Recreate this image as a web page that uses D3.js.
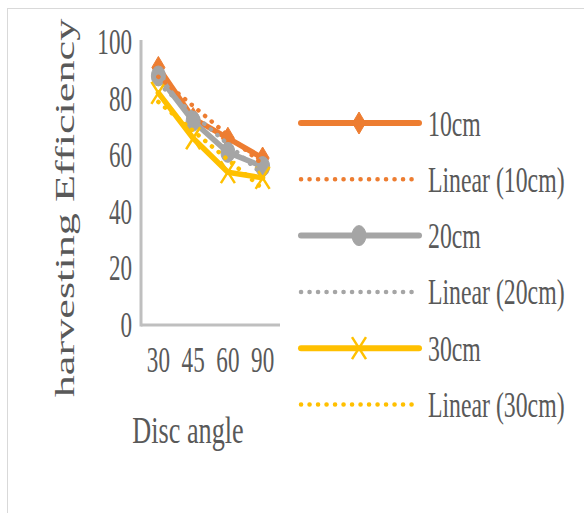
<!DOCTYPE html>
<html><head><meta charset="utf-8">
<script src="https://cdn.jsdelivr.net/npm/d3@7"></script>
<style>body{margin:0;background:#fff}svg{display:block}</style>
</head><body>
<svg id="c" width="584" height="513"></svg>
<script>
const categories = ["30","45","60","90"];
const s10 = [91, 73, 66, 59];
const s20 = [88, 72, 61, 56];
const s30 = [82, 66, 54, 52];
const yTicks = [0,20,40,60,80,100];
const seriesNames = ["10cm","20cm","30cm"];
const colors = ["#ED7D31","#A5A5A5","#FFC000"];
const markers = ["diamond","circle","x"];
const seriesData = [s10, s20, s30];

const svg = d3.select("#c");
const txt = "#595959";
const font = "'Liberation Serif','Times New Roman',serif";
const SX = 0.66;

svg.append("rect").attr("x",7.5).attr("y",8.5).attr("width",700).attr("height",700)
  .attr("fill","none").attr("stroke","#D9D9D9").attr("stroke-width",1);

const x = d3.scaleBand().domain(categories).range([141,280]).padding(0);
const y = d3.scaleLinear().domain([0,100]).range([325,42]);
const cx = c => x(c) + x.bandwidth()/2;

// axes
svg.append("line").attr("x1",141).attr("x2",141).attr("y1",40).attr("y2",y(0)+1.5)
  .attr("stroke","#BFBFBF").attr("stroke-width",3);
svg.append("line").attr("x1",141).attr("x2",280).attr("y1",y(0)).attr("y2",y(0))
  .attr("stroke","#BFBFBF").attr("stroke-width",3);

// y tick labels
svg.selectAll(".yt").data(yTicks).enter().append("text")
  .attr("transform", d => `translate(132,${y(d)+12}) scale(${SX},1)`)
  .attr("text-anchor","end").attr("font-family",font).attr("font-size",35).attr("fill",txt)
  .text(d => d);
// x tick labels
svg.selectAll(".xt").data(categories).enter().append("text")
  .attr("transform", d => `translate(${cx(d)},372) scale(${SX},1)`)
  .attr("text-anchor","middle").attr("font-family",font).attr("font-size",35).attr("fill",txt)
  .text(d => d);

// axis titles
svg.append("text").attr("transform","translate(188,443) scale(0.69,1)")
  .attr("text-anchor","middle").attr("font-family",font).attr("font-size",38).attr("fill",txt)
  .text("Disc angle");
svg.append("text").attr("transform","translate(74,208) rotate(-90) scale(1.58,1)")
  .attr("text-anchor","middle").attr("font-family",font).attr("font-size",28).attr("fill",txt)
  .text("harvesting Efficiency");

function drawMarker(g, type, color){
  if(type==="diamond"){
    g.append("path").attr("d","M0,-11L6.5,0L0,11L-6.5,0Z").attr("fill",color).attr("stroke",color).attr("stroke-width",1);
  } else if(type==="circle"){
    g.append("ellipse").attr("rx",7).attr("ry",10).attr("fill",color).attr("stroke",color).attr("stroke-width",1);
  } else {
    g.append("path").attr("d","M-7,-11L7,11M7,-11L-7,11").attr("stroke",color).attr("stroke-width",2.5).attr("fill","none");
  }
}

const line = d3.line().x((d,i)=>cx(categories[i])).y(d=>y(d));

// series
seriesData.forEach((data,k)=>{
  svg.append("path").attr("d",line(data)).attr("fill","none").attr("stroke",colors[k])
    .attr("stroke-width",5.5).attr("stroke-linejoin","round").attr("stroke-linecap","round");
  data.forEach((v,i)=>{
    const g = svg.append("g").attr("transform",`translate(${cx(categories[i])},${y(v)})`);
    drawMarker(g, markers[k], colors[k]);
  });
});

// linear trendlines (least squares on category index)
seriesData.forEach((data,k)=>{
  const n = data.length, xs = data.map((d,i)=>i+1);
  const mx = d3.mean(xs), my = d3.mean(data);
  const slope = d3.sum(xs.map((xi,i)=>(xi-mx)*(data[i]-my))) / d3.sum(xs.map(xi=>(xi-mx)**2));
  const b = my - slope*mx;
  const p0 = b + slope*1, p1 = b + slope*n;
  svg.append("line").attr("x1",cx(categories[0])).attr("x2",cx(categories[n-1]))
    .attr("y1",y(p0)).attr("y2",y(p1)).attr("stroke",colors[k]).attr("stroke-width",4.5)
    .attr("stroke-linecap","round").attr("stroke-dasharray","0.1 8.6");
});

// legend
const legendItems = [
  {name:"10cm", k:0, trend:false},{name:"Linear (10cm)", k:0, trend:true},
  {name:"20cm", k:1, trend:false},{name:"Linear (20cm)", k:1, trend:true},
  {name:"30cm", k:2, trend:false},{name:"Linear (30cm)", k:2, trend:true}];
legendItems.forEach((it,i)=>{
  const ly = 123 + i*56.3;
  const ln = svg.append("line").attr("x1",301).attr("x2",419).attr("y1",ly).attr("y2",ly)
    .attr("stroke",colors[it.k]).attr("stroke-linecap","round");
  if(it.trend){ ln.attr("stroke-width",4.5).attr("stroke-dasharray","0.1 8.4"); }
  else {
    ln.attr("stroke-width",6);
    const g = svg.append("g").attr("transform",`translate(359,${ly})`);
    drawMarker(g, markers[it.k], colors[it.k]);
  }
  svg.append("text").attr("transform",`translate(428,${ly+12.5}) scale(${SX},1)`)
    .attr("font-family",font).attr("font-size",36).attr("fill",txt).text(it.name);
});
</script>
</body></html>
